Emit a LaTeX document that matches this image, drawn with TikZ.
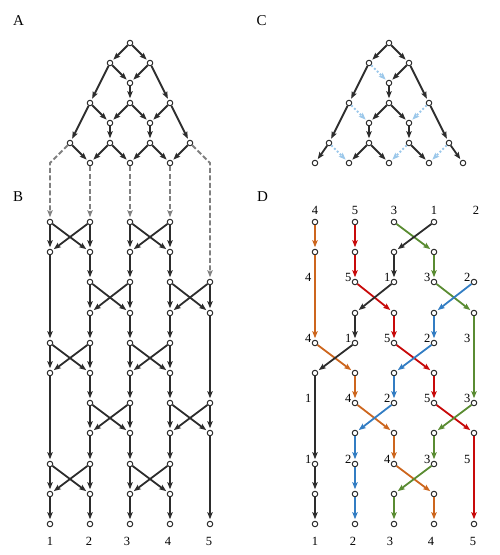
\documentclass[tikz,border=0pt]{standalone}
\usepackage{fontspec}
\setmainfont{Liberation Serif}
\usetikzlibrary{arrows.meta, positioning}
\definecolor{tEdge}{RGB}{45, 45, 45}
\definecolor{cGuide}{RGB}{128, 128, 128}
\definecolor{cSkip}{RGB}{155, 200, 235}
\definecolor{cOrange}{RGB}{205, 102, 30}
\definecolor{cRed}{RGB}{200, 10, 10}
\definecolor{cGreen}{RGB}{90, 140, 50}
\definecolor{cBlue}{RGB}{50, 125, 195}

\begin{document}
\begin{tikzpicture}[
    x=1pt, y=-1pt,
    font=\fontsize{12.5}{14}\selectfont,
    vtx/.style={
        circle,
        draw=tEdge,
        fill=white,
        line width=1pt,
        minimum size=5.5pt,
        inner sep=0pt
    },
    arrow/.style={-{Stealth[length=7pt, width=5.4pt, inset=1.4pt]}, line width=1.8pt, draw=#1, shorten >=1.5pt},
    arrow/.default=tEdge,
    guide/.style={arrow=cGuide, dash pattern=on 5pt off 2.5pt},
    skip/.style={arrow=cSkip, dash pattern=on 2pt off 2pt},
    num/.style={inner sep=0pt, anchor=base},
    side/.style={inner sep=0pt, anchor=base east},
    panel/.style={inner sep=0pt, anchor=base west, font=\fontsize{15}{17}\selectfont}
]
\useasboundingbox (0,0) rectangle (499,555);

\node[panel] (pA) at (13,25) {A};
\node[panel] (pB) at (13,201.5) {B};
\node[panel] (pC) at (256.5,25) {C};
\node[panel] (pD) at (257,201.5) {D};

% Panel A: full lattice
\node[vtx] (a00) at (130,43) {};
\node[vtx] (a10) at (110,63) {}; \node[vtx] (a11) at (150,63) {};
\node[vtx] (a20) at (130,83) {};
\node[vtx] (a30) at (90,103) {}; \node[vtx] (a31) at (130,103) {}; \node[vtx] (a32) at (170,103) {};
\node[vtx] (a40) at (110,123) {}; \node[vtx] (a41) at (150,123) {};
\node[vtx] (a50) at (70,143) {}; \node[vtx] (a51) at (110,143) {};
\node[vtx] (a52) at (150,143) {}; \node[vtx] (a53) at (190,143) {};
\node[vtx] (a60) at (90,163) {}; \node[vtx] (a61) at (130,163) {}; \node[vtx] (a62) at (170,163) {};

\draw[arrow] (a00) edge (a10) edge (a11);
\draw[arrow] (a10) edge (a20) edge (a30) (a11) edge (a20) edge (a32);
\draw[arrow] (a20) edge (a31);
\draw[arrow] (a30) edge (a40) edge (a50) (a31) edge (a40) edge (a41) (a32) edge (a41) edge (a53);
\draw[arrow] (a40) edge (a51) (a41) edge (a52);
\draw[arrow] (a50) edge (a60) (a51) edge (a60) edge (a61)
             (a52) edge (a61) edge (a62) (a53) edge (a62);

% Panel C: lattice with skipped links
\node[vtx] (c00) at (389,43) {};
\node[vtx] (c10) at (369,63) {}; \node[vtx] (c11) at (409,63) {};
\node[vtx] (c20) at (389,83) {};
\node[vtx] (c30) at (349,103) {}; \node[vtx] (c31) at (389,103) {}; \node[vtx] (c32) at (429,103) {};
\node[vtx] (c40) at (369,123) {}; \node[vtx] (c41) at (409,123) {};
\node[vtx] (c50) at (329,143) {}; \node[vtx] (c51) at (369,143) {};
\node[vtx] (c52) at (409,143) {}; \node[vtx] (c53) at (449,143) {};
\node[vtx] (c60) at (315,163) {}; \node[vtx] (c61) at (349,163) {}; \node[vtx] (c62) at (389,163) {};
\node[vtx] (c63) at (429,163) {}; \node[vtx] (c64) at (463,163) {};

\draw[arrow] (c00) edge (c10) edge (c11);
\draw[arrow] (c10) edge (c30) (c11) edge (c20) edge (c32);
\draw[arrow] (c20) edge (c31);
\draw[arrow] (c30) edge (c50) (c31) edge (c40) edge (c41) (c32) edge (c53);
\draw[arrow] (c40) edge (c51) (c41) edge (c52);
\draw[arrow] (c50) edge (c60) (c51) edge (c61) edge (c62) (c52) edge (c63) (c53) edge (c64);
\draw[skip] (c10) edge (c20) (c30) edge (c40) (c32) edge (c41);
\draw[skip] (c50) edge (c61) (c52) edge (c62) (c53) edge (c63);

% Panel B: network
\node[vtx] (b0a) at (50,222) {}; \node[vtx] (b0b) at (90,222) {};
\node[vtx] (b0c) at (130,222) {}; \node[vtx] (b0d) at (170,222) {};
\node[vtx] (b1a) at (50,252) {}; \node[vtx] (b1b) at (90,252) {};
\node[vtx] (b1c) at (130,252) {}; \node[vtx] (b1d) at (170,252) {};
\node[vtx] (b2b) at (90,282) {}; \node[vtx] (b2c) at (130,282) {};
\node[vtx] (b2d) at (170,282) {}; \node[vtx] (b2e) at (210,282) {};
\node[vtx] (b3b) at (90,313) {}; \node[vtx] (b3c) at (130,313) {};
\node[vtx] (b3d) at (170,313) {}; \node[vtx] (b3e) at (210,313) {};
\node[vtx] (b4a) at (50,343) {}; \node[vtx] (b4b) at (90,343) {};
\node[vtx] (b4c) at (130,343) {}; \node[vtx] (b4d) at (170,343) {};
\node[vtx] (b5a) at (50,373) {}; \node[vtx] (b5b) at (90,373) {};
\node[vtx] (b5c) at (130,373) {}; \node[vtx] (b5d) at (170,373) {};
\node[vtx] (b6b) at (90,403) {}; \node[vtx] (b6c) at (130,403) {};
\node[vtx] (b6d) at (170,403) {}; \node[vtx] (b6e) at (210,403) {};
\node[vtx] (b7b) at (90,433) {}; \node[vtx] (b7c) at (130,433) {};
\node[vtx] (b7d) at (170,433) {}; \node[vtx] (b7e) at (210,433) {};
\node[vtx] (b8a) at (50,464) {}; \node[vtx] (b8b) at (90,464) {};
\node[vtx] (b8c) at (130,464) {}; \node[vtx] (b8d) at (170,464) {};
\node[vtx] (b9a) at (50,494) {}; \node[vtx] (b9b) at (90,494) {};
\node[vtx] (b9c) at (130,494) {}; \node[vtx] (b9d) at (170,494) {};
\node[vtx] (b10a) at (50,524) {}; \node[vtx] (b10b) at (90,524) {}; \node[vtx] (b10c) at (130,524) {};
\node[vtx] (b10d) at (170,524) {}; \node[vtx] (b10e) at (210,524) {};

% A feeds B
\coordinate (k1) at (50,163);
\coordinate (k2) at (210,163);
\draw[guide] (a50) -- (k1) -- (b0a);
\draw[guide] (a60) edge (b0b) (a61) edge (b0c) (a62) edge (b0d);
\draw[guide] (a53) -- (k2) -- (b2e);

\draw[arrow] (b0a) edge (b1a) edge (b1b) (b0b) edge (b1a) edge (b1b)
             (b0c) edge (b1c) edge (b1d) (b0d) edge (b1c) edge (b1d);
\draw[arrow] (b2b) edge (b3b) edge (b3c) (b2c) edge (b3b) edge (b3c)
             (b2d) edge (b3d) edge (b3e) (b2e) edge (b3d) edge (b3e);
\draw[arrow] (b4a) edge (b5a) edge (b5b) (b4b) edge (b5a) edge (b5b)
             (b4c) edge (b5c) edge (b5d) (b4d) edge (b5c) edge (b5d);
\draw[arrow] (b6b) edge (b7b) edge (b7c) (b6c) edge (b7b) edge (b7c)
             (b6d) edge (b7d) edge (b7e) (b6e) edge (b7d) edge (b7e);
\draw[arrow] (b8a) edge (b9a) edge (b9b) (b8b) edge (b9a) edge (b9b)
             (b8c) edge (b9c) edge (b9d) (b8d) edge (b9c) edge (b9d);
\draw[arrow] (b1a) edge (b4a) (b1b) edge (b2b) (b1c) edge (b2c) (b1d) edge (b2d);
\draw[arrow] (b3b) edge (b4b) (b3c) edge (b4c) (b3d) edge (b4d) (b3e) edge (b6e);
\draw[arrow] (b5a) edge (b8a) (b5b) edge (b6b) (b5c) edge (b6c) (b5d) edge (b6d);
\draw[arrow] (b7b) edge (b8b) (b7c) edge (b8c) (b7d) edge (b8d) (b7e) edge (b10e);
\draw[arrow] (b9a) edge (b10a) (b9b) edge (b10b) (b9c) edge (b10c) (b9d) edge (b10d);

\node[num] (bl1) at (50,545) {1}; \node[num] (bl2) at (89,545) {2};
\node[num] (bl3) at (127,545) {3}; \node[num] (bl4) at (168,545) {4};
\node[num] (bl5) at (209,545) {5};

% Panel D: traced paths
\node[vtx] (d0a) at (315,222) {}; \node[vtx] (d0b) at (355,222) {};
\node[vtx] (d0c) at (394,222) {}; \node[vtx] (d0d) at (434,222) {};
\node[vtx] (d1a) at (315,252) {}; \node[vtx] (d1b) at (355,252) {};
\node[vtx] (d1c) at (394,252) {}; \node[vtx] (d1d) at (434,252) {};
\node[vtx] (d2b) at (355,282) {}; \node[vtx] (d2c) at (394,282) {};
\node[vtx] (d2d) at (434,282) {}; \node[vtx] (d2e) at (474,282) {};
\node[vtx] (d3b) at (355,313) {}; \node[vtx] (d3c) at (394,313) {};
\node[vtx] (d3d) at (434,313) {}; \node[vtx] (d3e) at (474,313) {};
\node[vtx] (d4a) at (315,343) {}; \node[vtx] (d4b) at (355,343) {};
\node[vtx] (d4c) at (394,343) {}; \node[vtx] (d4d) at (434,343) {};
\node[vtx] (d5a) at (315,373) {}; \node[vtx] (d5b) at (355,373) {};
\node[vtx] (d5c) at (394,373) {}; \node[vtx] (d5d) at (434,373) {};
\node[vtx] (d6b) at (355,403) {}; \node[vtx] (d6c) at (394,403) {};
\node[vtx] (d6d) at (434,403) {}; \node[vtx] (d6e) at (474,403) {};
\node[vtx] (d7b) at (355,433) {}; \node[vtx] (d7c) at (394,433) {};
\node[vtx] (d7d) at (434,433) {}; \node[vtx] (d7e) at (474,433) {};
\node[vtx] (d8a) at (315,464) {}; \node[vtx] (d8b) at (355,464) {};
\node[vtx] (d8c) at (394,464) {}; \node[vtx] (d8d) at (434,464) {};
\node[vtx] (d9a) at (315,494) {}; \node[vtx] (d9b) at (355,494) {};
\node[vtx] (d9c) at (394,494) {}; \node[vtx] (d9d) at (434,494) {};
\node[vtx] (d10a) at (315,524) {}; \node[vtx] (d10b) at (355,524) {}; \node[vtx] (d10c) at (394,524) {};
\node[vtx] (d10d) at (434,524) {}; \node[vtx] (d10e) at (474,524) {};

\draw[arrow=cOrange] (d0a) edge (d1a) (d1a) edge (d4a) (d4a) edge (d5b) (d5b) edge (d6b)
                     (d6b) edge (d7c) (d7c) edge (d8c) (d8c) edge (d9d) (d9d) edge (d10d);
\draw[arrow=cRed] (d0b) edge (d1b) (d1b) edge (d2b) (d2b) edge (d3c) (d3c) edge (d4c)
                  (d4c) edge (d5d) (d5d) edge (d6d) (d6d) edge (d7e) (d7e) edge (d10e);
\draw[arrow=cGreen] (d0c) edge (d1d) (d1d) edge (d2d) (d2d) edge (d3e) (d3e) edge (d6e)
                    (d6e) edge (d7d) (d7d) edge (d8d) (d8d) edge (d9c) (d9c) edge (d10c);
\draw[arrow] (d0d) edge (d1c) (d1c) edge (d2c) (d2c) edge (d3b) (d3b) edge (d4b)
             (d4b) edge (d5a) (d5a) edge (d8a) (d8a) edge (d9a) (d9a) edge (d10a);
\draw[arrow=cBlue] (d2e) edge (d3d) (d3d) edge (d4d) (d4d) edge (d5c) (d5c) edge (d6c)
                   (d6c) edge (d7b) (d7b) edge (d8b) (d8b) edge (d9b) (d9b) edge (d10b);

% labels of panel D
\node[num] (dt1) at (315,214) {4}; \node[num] (dt2) at (355,214) {5};
\node[num] (dt3) at (394,214) {3}; \node[num] (dt4) at (434,214) {1};
\node[num] (dt5) at (476,214) {2};

\node[side] (s2a) at (311.5,281) {4}; \node[side] (s2b) at (351.5,281) {5};
\node[side] (s2c) at (390.5,281) {1}; \node[side] (s2d) at (430.5,281) {3};
\node[side] (s2e) at (470.5,281) {2};

\node[side] (s4a) at (311.5,342) {4}; \node[side] (s4b) at (351.5,342) {1};
\node[side] (s4c) at (390.5,342) {5}; \node[side] (s4d) at (430.5,342) {2};
\node[side] (s4e) at (470.5,342) {3};

\node[side] (s6a) at (311.5,402) {1}; \node[side] (s6b) at (351.5,402) {4};
\node[side] (s6c) at (390.5,402) {2}; \node[side] (s6d) at (430.5,402) {5};
\node[side] (s6e) at (470.5,402) {3};

\node[side] (s8a) at (311.5,463) {1}; \node[side] (s8b) at (351.5,463) {2};
\node[side] (s8c) at (390.5,463) {4}; \node[side] (s8d) at (430.5,463) {3};
\node[side] (s8e) at (470.5,463) {5};

\node[num] (dl1) at (315,545) {1}; \node[num] (dl2) at (353,545) {2};
\node[num] (dl3) at (390,545) {3}; \node[num] (dl4) at (431,545) {4};
\node[num] (dl5) at (473,545) {5};

\end{tikzpicture}
\end{document}
